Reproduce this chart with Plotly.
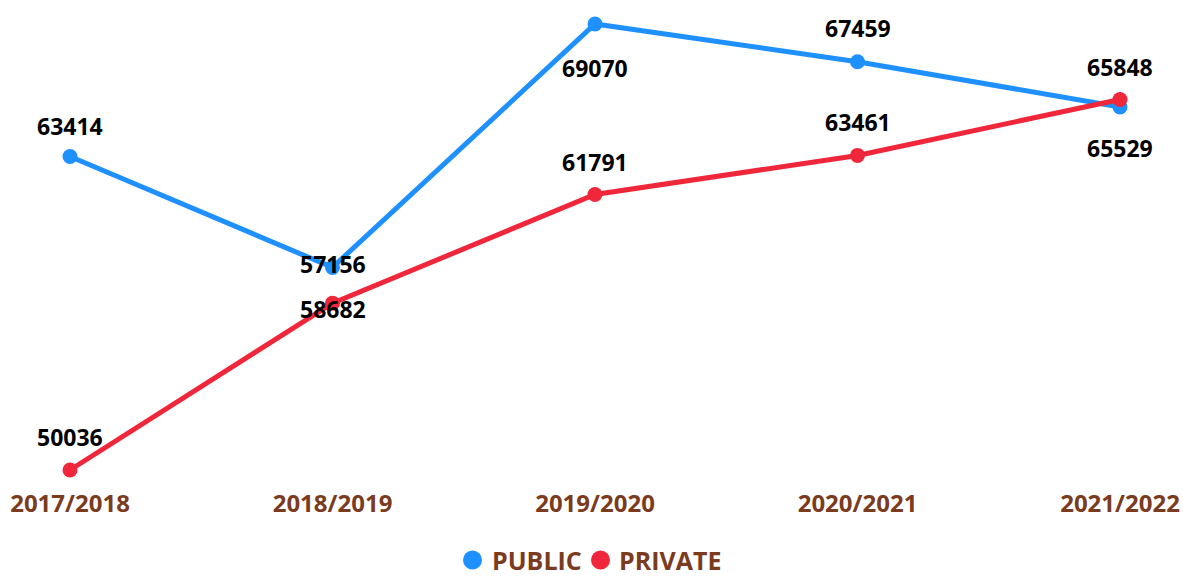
import plotly.graph_objects as go

categories = ["2017/2018", "2018/2019", "2019/2020", "2020/2021", "2021/2022"]
public_values = [63414, 58682, 69070, 67459, 65529]
private_values = [50036, 57156, 61791, 63461, 65848]
public_labels = ["63414", "57156", "69070", "67459", "65529"]
private_labels = ["50036", "58682", "61791", "63461", "65848"]
series_names = ["PUBLIC", "PRIVATE"]

BLUE = "#1E90FF"
RED = "#F0263A"
BROWN = "#7A3B1E"
FONT = "Open Sans"

W, H = 1183, 576
PLOT_H = 480

public_shift = [31, 3, -44, 34, -41]
private_shift = [33, -6, 33, 33, 32]

fig = go.Figure()
for name, vals, color in [(series_names[0], public_values, BLUE), (series_names[1], private_values, RED)]:
    fig.add_trace(go.Scatter(
        x=categories, y=vals, mode="lines+markers", name=name,
        line=dict(color=color, width=5), marker=dict(color=color, size=15),
        showlegend=False, cliponaxis=False, hoverinfo="skip"))

annotations = []
for vals, labels, shifts in [(public_values, public_labels, public_shift),
                             (private_values, private_labels, private_shift)]:
    for c, v, t, s in zip(categories, vals, labels, shifts):
        annotations.append(dict(x=c, y=v, text=t, showarrow=False, yshift=s,
                                font=dict(family=FONT, size=23, color="#000000", weight="bold")))

# manual legend (circle + text), positions in figure pixels
legend_y = (PLOT_H - 560) / PLOT_H
shapes = []
for name, color, cx, tx in [(series_names[0], BLUE, 472.5, 490), (series_names[1], RED, 600.5, 617)]:
    shapes.append(dict(type="circle", xref="paper", yref="paper",
                       xsizemode="pixel", ysizemode="pixel",
                       xanchor=cx / W, yanchor=legend_y,
                       x0=-9.5, x1=9.5, y0=-9.5, y1=9.5,
                       fillcolor=color, line=dict(width=0)))
    annotations.append(dict(x=tx / W, y=legend_y, xref="paper", yref="paper",
                            xanchor="left", yanchor="middle", text=name, showarrow=False,
                            font=dict(family=FONT, size=25, color=BROWN, weight="bold")))

fig.update_layout(
    width=W, height=H,
    margin=dict(l=0, r=0, t=0, b=H - PLOT_H),
    paper_bgcolor="white", plot_bgcolor="white",
    annotations=annotations, shapes=shapes,
    xaxis=dict(type="category", range=[-0.2667, 4.24], showgrid=False, zeroline=False,
               showline=False, ticks="", ticklabelstandoff=7, fixedrange=True,
               tickfont=dict(family=FONT, size=24, color=BROWN, weight="bold")),
    yaxis=dict(range=[49609, 70094], visible=False, fixedrange=True),
    showlegend=False,
    hovermode=False,
)

fig.write_html("out.html", config={"displayModeBar": False},
               post_script="document.body.style.margin='0';document.body.style.overflow='hidden';")
